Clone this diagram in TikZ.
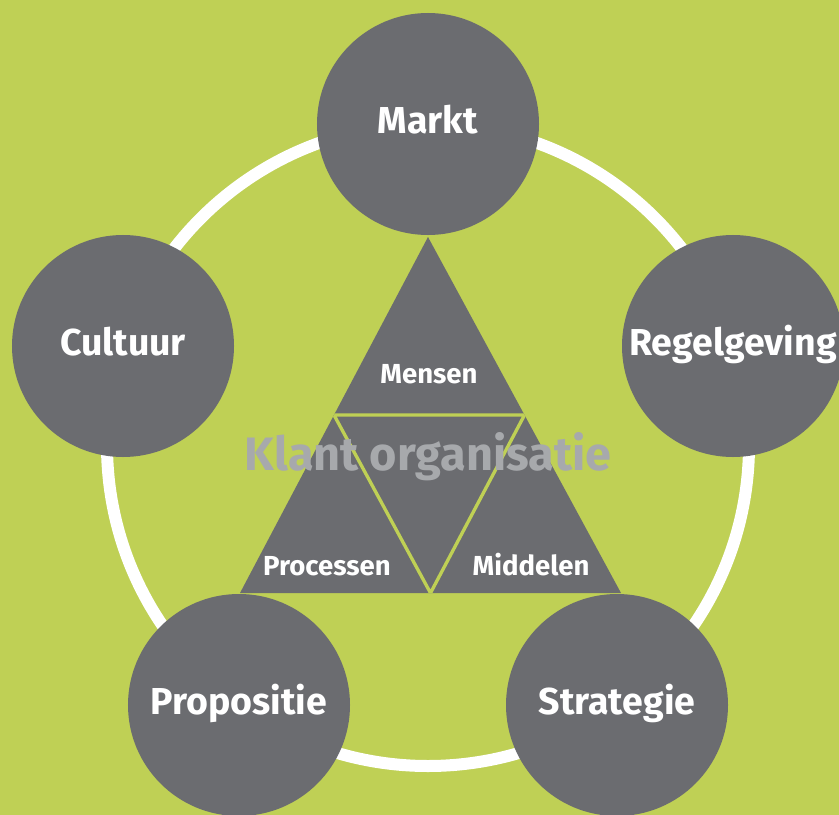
\documentclass[tikz,border=0pt]{standalone}
\usepackage{fontspec}
\setmainfont{Fira Sans}
\definecolor{loof}{HTML}{BFD055}
\definecolor{donker}{HTML}{6B6C70}
\definecolor{licht}{HTML}{A7A9AC}
\begin{document}
\begin{tikzpicture}[x=0.03cm, y=-0.03cm,
    bol/.style={circle, fill=donker, minimum size=6.66cm, inner sep=0pt,
        text=white, font=\fontsize{32}{36}\selectfont\bfseries,
        text height=17pt, text depth=0pt},
    deel/.style={anchor=base, text=white, font=\fontsize{23.5}{27}\selectfont\bfseries}]
    % Achtergrond
    \fill[loof] (0,0) rectangle (839,815);
    \useasboundingbox (0,0) rectangle (839,815);

    % Witte ring
    \coordinate (midden) at (428,445);
    \draw[white, line width=0.36cm] (midden) circle [radius=321];

    % Driehoek met drie delen
    \coordinate (top) at (428,237);
    \coordinate (links) at (240,593);
    \coordinate (rechts) at (621,593);
    \coordinate (ml) at (334,415);
    \coordinate (mr) at (524.5,415);
    \coordinate (mb) at (430.5,593);
    \fill[donker] (top) -- (rechts) -- (links) -- cycle;
    \begin{scope}
        \clip (top) -- (rechts) -- (links) -- cycle;
        \draw[loof, line width=0.1cm] (ml) -- (mr) -- (mb) -- cycle;
    \end{scope}

    \node[deel] (mensen) at (429,383) {Mensen};
    \node[deel] (processen) at (327,575) {Processen};
    \node[deel] (middelen) at (531,575) {Middelen};
    \node[anchor=base, text=licht, font=\fontsize{40}{44}\selectfont\bfseries]
        (klant) at (428,470) {Klant organisatie};

    % Vijf cirkels op de ring
    \node[bol] (markt) at (428,124) {Markt};
    \node[bol] (regelgeving) at (733,346) {Regelgeving};
    \node[bol] (strategie) at (617,705) {Strategie};
    \node[bol] (propositie) at (239,705) {Propositie};
    \node[bol] (cultuur) at (123,346) {Cultuur};
\end{tikzpicture}
\end{document}
